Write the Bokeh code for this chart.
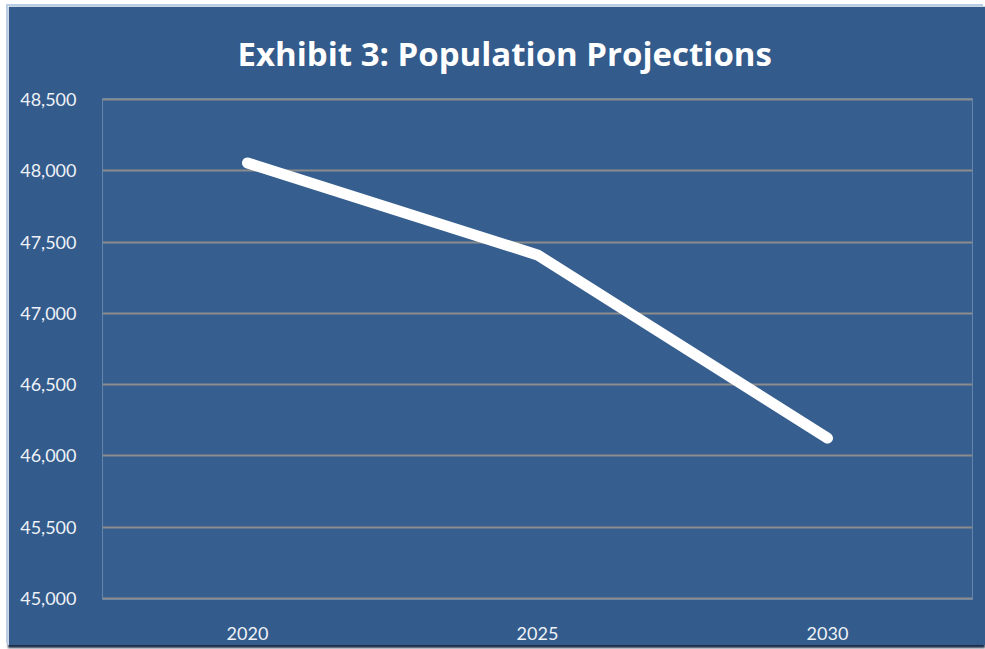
from bokeh.plotting import figure
from bokeh.models import Range1d, FactorRange, NumeralTickFormatter
from bokeh.embed import file_html
from bokeh.resources import INLINE

years = ["2020", "2025", "2030"]
population = [48055, 47410, 46125]
y_ticks = [45000, 45500, 46000, 46500, 47000, 47500, 48000, 48500]
title_text = "Exhibit 3: Population Projections"

p = figure(width=977, height=639, x_range=FactorRange(*years, range_padding=0),
           y_range=Range1d(44993, 48507), output_backend="svg", toolbar_location=None,
           min_border_left=94, min_border_right=13, min_border_top=92, min_border_bottom=46,
           title=title_text)
p.margin = (6, 0, 0, 8)
p.styles = {"box-shadow": "-2px -2px 0 #b9cde5, 0 3px 2px #1c2f48"}
p.background_fill_color = "#365f8f"
p.border_fill_color = "#335b8b"
p.outline_line_color = None

p.title.align = "left"
p.title.offset = 135
p.title.standoff = 45
p.title.text_color = "white"
p.title.text_font = "Open Sans"
p.title.text_font_style = "bold"
p.title.text_font_size = "33px"

p.line(years, population, line_color="white", line_width=11, line_cap="round", line_join="round")

p.xgrid.grid_line_color = None
p.ygrid.grid_line_color = "#8c8c8c"
p.ygrid.grid_line_width = 2
p.yaxis.ticker = y_ticks
p.yaxis.formatter = NumeralTickFormatter(format="0,0")
for ax in (p.xaxis[0], p.yaxis[0]):
    ax.axis_line_color = None
    ax.major_tick_line_color = None
    ax.minor_tick_line_color = None
    ax.major_label_text_color = "#eef2f7"
    ax.major_label_text_font = "Lato"
    ax.major_label_text_font_size = "18px"
p.yaxis.major_label_standoff = 20
p.xaxis.major_label_standoff = 21

open("out.html", "w").write(file_html(p, INLINE))
